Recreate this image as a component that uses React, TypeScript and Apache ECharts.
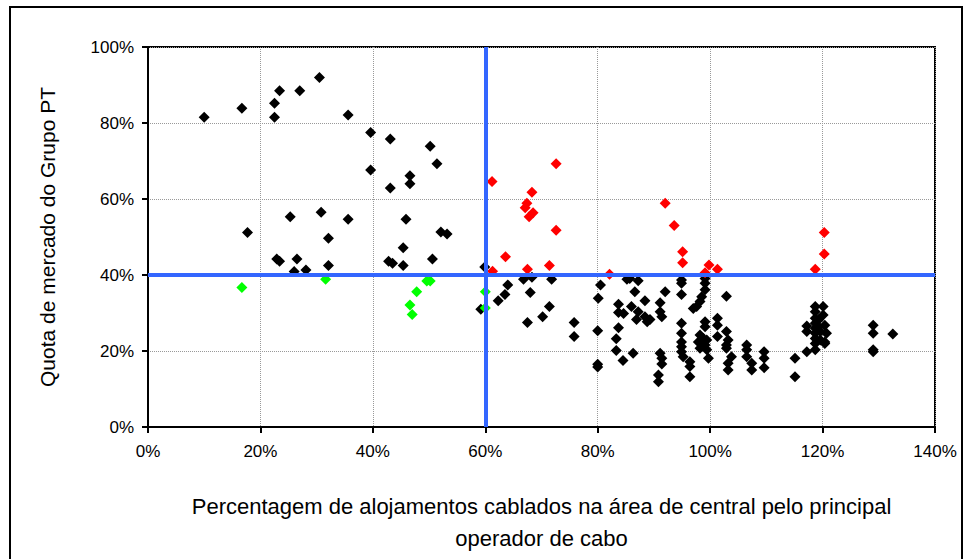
import React, { useEffect, useRef } from "react";
import * as echarts from "echarts";

const xTicks = [0, 20, 40, 60, 80, 100, 120, 140];
const yTicks = [0, 20, 40, 60, 80, 100];
const xTitle = "Percentagem de alojamentos cablados na área de central pelo principal\noperador de cabo";
const yTitle = "Quota de mercado do Grupo PT";
const thresholdX = 60;
const thresholdY = 40;

const blackPoints: number[][] = [
  [10.0, 81.5], [16.7, 83.9], [22.5, 81.5], [22.5, 85.2], [23.4, 88.5], [27.0, 88.5], [30.5, 92.0],
  [25.3, 55.3], [30.8, 56.5], [17.7, 51.2], [32.1, 49.7],
  [22.9, 44.2], [23.4, 43.6], [26.5, 44.2], [26.0, 40.9], [28.1, 41.3], [32.1, 42.5],
  [35.6, 82.1], [39.6, 77.5], [43.1, 75.8], [50.2, 73.9], [51.4, 69.3], [39.6, 67.6], [46.6, 66.1], [46.6, 64.0], [43.1, 62.9],
  [35.6, 54.7], [45.9, 54.7], [52.1, 51.3], [53.2, 50.8],
  [45.4, 47.2], [50.6, 44.2], [42.8, 43.6], [43.5, 43.1], [45.4, 42.5],
  [59.9, 42.1], [59.2, 31.0], [62.3, 33.2],
  [64.0, 37.4], [66.8, 38.9], [68.3, 39.4], [71.8, 38.9], [80.5, 37.4], [85.2, 38.9],
  [63.5, 34.9], [68.0, 35.4], [71.4, 31.7], [70.2, 29.0], [67.5, 27.5], [75.8, 27.5], [75.8, 23.8],
  [80.1, 33.9], [80.0, 25.3], [80.0, 16.5], [80.0, 15.8],
  [83.7, 32.3], [83.7, 30.1], [84.6, 29.9], [83.7, 26.1], [83.3, 23.2], [83.3, 20.1], [84.5, 17.5],
  [85.7, 39.1], [87.2, 38.5], [86.6, 35.6], [88.4, 33.2], [86.0, 31.7], [87.2, 30.3], [86.9, 28.3], [88.4, 29.0], [89.3, 28.3], [88.8, 27.7],
  [92.0, 35.6], [91.1, 32.7], [91.1, 30.3], [91.4, 29.0], [86.3, 19.4], [91.1, 19.4], [91.4, 18.1], [91.4, 16.6], [90.8, 13.7], [90.8, 11.9],
  [94.9, 38.7], [94.9, 37.8], [94.9, 34.9], [94.9, 27.3], [94.9, 24.7], [94.9, 22.4], [94.9, 21.1], [94.9, 19.8], [95.2, 18.5], [96.4, 17.2], [96.4, 15.9], [96.4, 13.2],
  [99.1, 39.1], [99.1, 37.8], [99.1, 36.1], [98.5, 34.3], [98.2, 33.0], [97.0, 31.2], [97.6, 31.7], [99.1, 27.7], [99.1, 26.4],
  [98.2, 24.2], [98.8, 23.3], [99.4, 22.9], [97.9, 22.4], [99.1, 21.6], [98.2, 20.7], [99.4, 20.3], [99.7, 18.1],
  [102.9, 34.4], [101.3, 28.6], [101.3, 26.8], [101.3, 23.8], [102.9, 25.1], [103.2, 22.9], [102.9, 21.6], [102.9, 20.7], [103.8, 18.5], [103.2, 16.8], [103.2, 15.0],
  [106.5, 21.6], [106.5, 20.3], [106.5, 18.5], [107.4, 16.8], [107.4, 15.0],
  [109.6, 19.8], [109.6, 18.1], [109.6, 15.6],
  [115.1, 18.1], [115.1, 13.2],
  [117.2, 26.6], [117.2, 25.1], [117.2, 19.8],
  [118.7, 31.7], [120.1, 31.7], [118.7, 30.3], [120.1, 29.5], [118.7, 28.6], [119.3, 28.2], [118.7, 27.3], [118.7, 26.0], [119.3, 26.4], [120.4, 26.8], [120.7, 24.7], [118.7, 24.7], [119.6, 25.1], [118.7, 23.3], [119.6, 22.9], [118.7, 22.0], [120.4, 22.4], [118.7, 20.3], [120.4, 22.0],
  [129.0, 26.8], [129.0, 24.7], [129.0, 20.3], [129.0, 19.8], [132.5, 24.5],
];

const redPoints: number[][] = [
  [61.2, 64.6], [72.6, 69.3], [68.3, 61.8], [67.4, 58.9], [67.1, 57.7], [68.5, 56.4], [67.8, 55.3], [72.6, 51.8],
  [63.6, 44.8], [67.5, 41.5], [71.4, 42.5], [82.1, 40.2], [61.3, 41.0],
  [92.0, 58.9], [93.6, 53.0], [95.1, 46.1], [95.1, 43.2], [99.8, 42.6], [101.3, 41.5], [99.1, 40.6],
  [120.3, 51.2], [120.3, 45.5], [118.7, 41.5],
];

const greenPoints: number[][] = [
  [16.7, 36.7], [31.6, 38.9], [49.6, 38.4], [50.2, 38.4], [47.8, 35.6], [46.6, 32.1], [47.0, 29.6], [60.0, 35.6], [60.0, 31.3],
];

const FONT = "'Liberation Sans', Arial, sans-serif";

export default function App() {
  const ref = useRef<HTMLDivElement>(null);
  useEffect(() => {
    if (!ref.current) return;
    const chart = echarts.init(ref.current, null, { renderer: "svg" });
    const sym = { symbol: "diamond", symbolSize: 11 };
    chart.setOption({
      animation: false,
      backgroundColor: "#fff",
      textStyle: { fontFamily: FONT },
      grid: {
        left: 148, right: 31, top: 47, bottom: 132,
        show: true, borderColor: "#000", borderWidth: 2, backgroundColor: "transparent",
      },
      graphic: [
        {
          type: "rect", z: -10, silent: true,
          shape: { x: 10, y: 7, width: 952, height: 570 },
          style: { fill: "none", stroke: "#000", lineWidth: 2 },
        },
      ],
      xAxis: {
        type: "value", min: xTicks[0], max: xTicks[xTicks.length - 1], interval: 20,
        name: xTitle, nameLocation: "middle", nameGap: 63,
        nameTextStyle: { fontFamily: FONT, fontSize: 22, color: "#000", lineHeight: 32 },
        axisLine: { show: true, onZero: false, lineStyle: { color: "#000", width: 2 } },
        axisTick: { show: true, inside: false, length: 6, lineStyle: { color: "#000", width: 2 } },
        axisLabel: { formatter: "{value}%", fontFamily: FONT, fontSize: 17, color: "#000", margin: 16 },
        splitLine: { show: true, lineStyle: { color: "#999", type: "dotted", width: 1 } },
      },
      yAxis: {
        type: "value", min: yTicks[0], max: yTicks[yTicks.length - 1], interval: 20,
        name: yTitle, nameLocation: "middle", nameGap: 90, nameRotate: 90,
        nameTextStyle: { fontFamily: FONT, fontSize: 21, color: "#000" },
        axisLine: { show: true, onZero: false, lineStyle: { color: "#000", width: 2 } },
        axisTick: { show: true, inside: false, length: 6, lineStyle: { color: "#000", width: 2 } },
        axisLabel: { formatter: "{value}%", fontFamily: FONT, fontSize: 17, color: "#000", margin: 14 },
        splitLine: { show: true, lineStyle: { color: "#999", type: "dotted", width: 1 } },
      },
      series: [
        { type: "scatter", data: blackPoints, itemStyle: { color: "#000", opacity: 1 }, ...sym, z: 2 },
        { type: "scatter", data: redPoints, itemStyle: { color: "#ff0000", opacity: 1 }, ...sym, z: 2 },
        { type: "scatter", data: greenPoints, itemStyle: { color: "#00ff00", opacity: 1 }, ...sym, z: 2 },
        {
          type: "scatter", data: [], z: 5,
          markLine: {
            silent: true, symbol: "none", label: { show: false },
            lineStyle: { color: "#3366ff", width: 4, type: "solid" },
            data: [{ xAxis: thresholdX }, { yAxis: thresholdY }],
          },
        },
      ],
    });
    return () => chart.dispose();
  }, []);
  return <div ref={ref} style={{ position: "absolute", left: 0, top: 0, width: 966, height: 559 }} />;
}
